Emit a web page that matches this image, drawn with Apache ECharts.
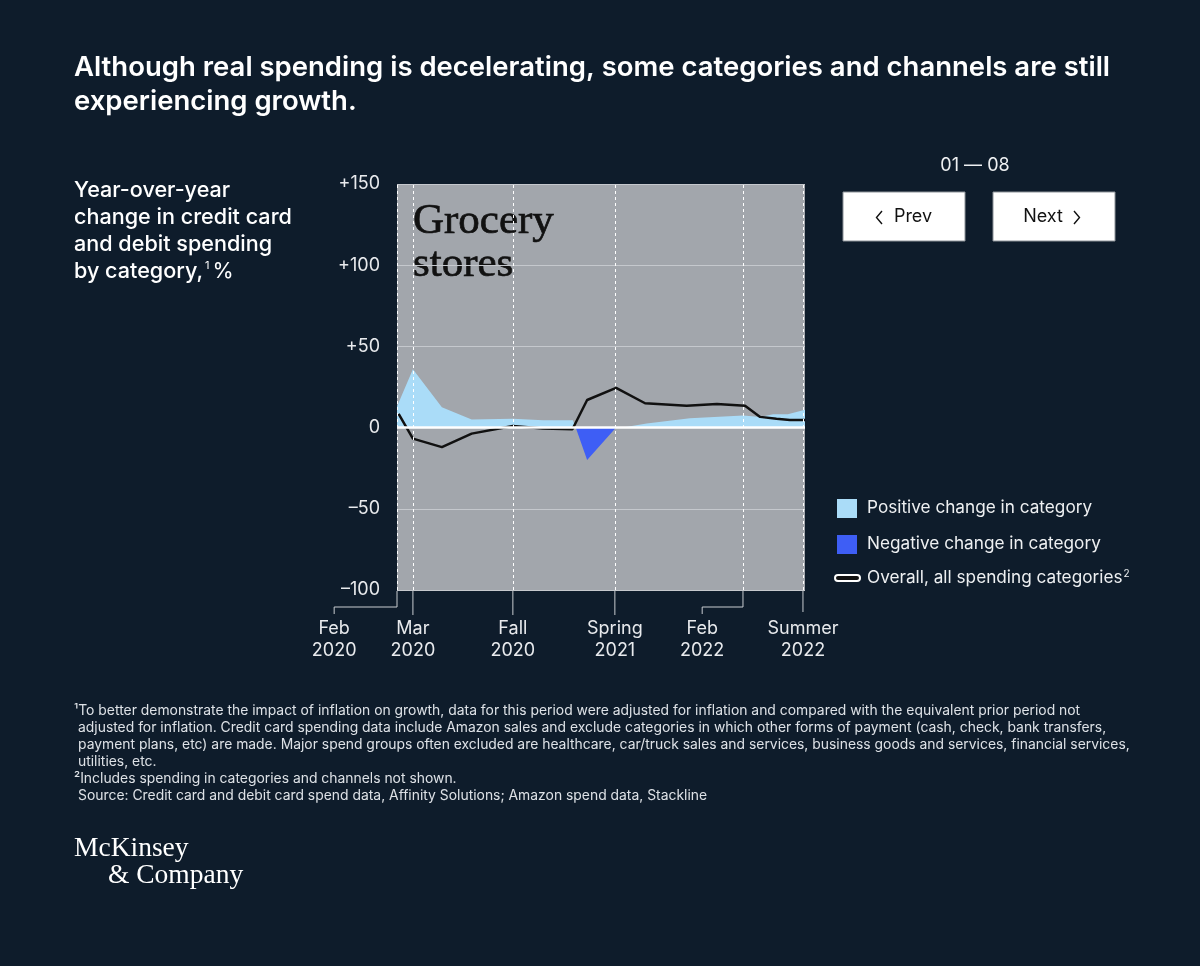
<!DOCTYPE html>
<html lang="en">
<head>
  <meta charset="UTF-8" />
  <title>Grocery stores – YoY spending</title>
  <script src="https://cdn.jsdelivr.net/npm/echarts@6.0.0/dist/echarts.min.js"></script>
  <style>
    html, body { margin: 0; padding: 0; background: #0e1c2b; }
    #chart { width: 1200px; height: 966px; }
  </style>
</head>
<body>
  <div id="chart"></div>
  <script>
    // timeline position (0 = Feb 2020 edge, 100 = right edge), values in %
    const categoryX = [0, 3.9, 11, 18.3, 28.4, 35.8, 43.1, 43.8, 46.6, 53.7, 55.4, 61.2, 71.8, 84.9, 89, 92.2, 95.8, 100];
    const categoryY = [13, 36, 12.5, 5, 5.4, 4.5, 4.5, 0, -20, 0, 0, 2.5, 5.7, 7.4, 6.6, 8.2, 8.2, 11];

    const overallX = [0.4, 3.9, 11, 18.3, 28.4, 35.8, 43, 46.6, 53.7, 60.8, 71, 78.4, 85.3, 89, 93, 96.3, 100];
    const overallY = [8.5, -6.8, -12, -3.7, 1, -0.5, -1, 17, 24.5, 15, 13.4, 14.6, 13.5, 6.6, 5.4, 4.7, 4.7];

    // x-axis markers: where the dashed line sits, where the label sits
    const tickAt = [0, 3.9, 28.4, 53.4, 84.8, 99.5];
    const labelAt = [-15.4, 3.9, 28.4, 53.4, 74.8, 99.5];
    const tickLabels = ['Feb\n2020', 'Mar\n2020', 'Fall\n2020', 'Spring\n2021', 'Feb\n2022', 'Summer\n2022'];

    const footnotes = [
      ['\u00b9To better demonstrate the impact of inflation on growth, data for this period were adjusted for inflation and compared with the equivalent prior period not', 74],
      ['adjusted for inflation. Credit card spending data include Amazon sales and exclude categories in which other forms of payment (cash, check, bank transfers,', 78],
      ['payment plans, etc) are made. Major spend groups often excluded are healthcare, car/truck sales and services, business goods and services, financial services,', 78],
      ['utilities, etc.', 78],
      ['\u00b2Includes spending in categories and channels not shown.', 74],
      ['Source: Credit card and debit card spend data, Affinity Solutions; Amazon spend data, Stackline', 78]
    ];

    const SANS = 'Inter, "Noto Sans", sans-serif';
    const SERIF = '"Liberation Serif", "DejaVu Serif", serif';
    const BG = '#0e1c2b';

    const chart = echarts.init(document.getElementById('chart'));

    const positive = categoryX.map((x, i) => [x, Math.max(categoryY[i], 0)]);
    const negative = categoryX.map((x, i) => [x, Math.min(categoryY[i], 0)]);
    const overall = overallX.map((x, i) => [x, overallY[i]]);

    function txt(x, y, text, size, opts) {
      return {
        type: 'text', x: x, y: y, silent: true,
        style: Object.assign({
          text: text, fill: '#eef0f2', font: '400 ' + size + 'px ' + SANS,
          align: 'left', verticalAlign: 'middle'
        }, opts || {})
      };
    }

    const graphics = [
      txt(74, 68, 'Although real spending is decelerating, some categories and channels are still', 27.5, { fill: '#ffffff', font: '600 27.5px ' + SANS }),
      txt(74, 102, 'experiencing growth.', 27.5, { fill: '#ffffff', font: '600 27.5px ' + SANS }),
      txt(74, 190, 'Year-over-year', 21.5, { fill: '#ffffff', font: '500 21.6px ' + SANS }),
      txt(74, 217, 'change in credit card', 21.5, { fill: '#ffffff', font: '500 21.6px ' + SANS }),
      txt(74, 244, 'and debit spending', 21.5, { fill: '#ffffff', font: '500 21.6px ' + SANS }),
      {
        type: 'text', x: 74, y: 271, silent: true,
        style: {
          text: '{a|by category,}{s|1}{b|%}', verticalAlign: 'middle',
          rich: {
            a: { fill: '#ffffff', font: '500 21.6px ' + SANS },
            b: { fill: '#ffffff', font: '400 21.6px ' + SANS },
            s: { fill: '#ffffff', font: '400 11px ' + SANS, verticalAlign: 'top', padding: [0, 3, 11, 2] }
          }
        }
      },
      // panel title inside plot
      txt(413, 222, 'Grocery', 43, { fill: '#111111', font: '400 43px ' + SERIF, stroke: '#111111', lineWidth: 0.7 }),
      txt(413, 265, 'stores', 43, { fill: '#111111', font: '400 43px ' + SERIF, stroke: '#111111', lineWidth: 0.7 }),
      // pager
      txt(975, 166, '01 \u2014 08', 18, { align: 'center' }),
      { type: 'rect', shape: { x: 843, y: 192, width: 122, height: 49 }, style: { fill: '#ffffff', stroke: '#8c9298', lineWidth: 1 } },
      { type: 'polyline', shape: { points: [[882, 211], [876.5, 217.5], [882, 224]] }, style: { stroke: '#111', lineWidth: 1.4, fill: null } },
      txt(913, 217, 'Prev', 18, { fill: '#111111', align: 'center' }),
      { type: 'rect', shape: { x: 993, y: 192, width: 122, height: 49 }, style: { fill: '#ffffff', stroke: '#8c9298', lineWidth: 1 } },
      txt(1043, 217, 'Next', 18, { fill: '#111111', align: 'center' }),
      { type: 'polyline', shape: { points: [[1074, 211], [1079.5, 217.5], [1074, 224]] }, style: { stroke: '#111', lineWidth: 1.4, fill: null } },
      // legend
      { type: 'rect', shape: { x: 837, y: 499, width: 20, height: 19 }, style: { fill: '#aadcf8' } },
      txt(867, 508, 'Positive change in category', 17.2),
      { type: 'rect', shape: { x: 837, y: 535, width: 20, height: 19 }, style: { fill: '#3e5ef5' } },
      txt(867, 544, 'Negative change in category', 17.2),
      { type: 'rect', shape: { x: 835, y: 575, width: 25, height: 6, r: 3 }, style: { fill: '#111', stroke: '#ffffff', lineWidth: 2 } },
      {
        type: 'text', x: 867, y: 578, silent: true,
        style: {
          text: '{a|Overall, all spending categories}{s|2}', verticalAlign: 'middle',
          rich: {
            a: { fill: '#eef0f2', font: '400 17.2px ' + SANS },
            s: { fill: '#eef0f2', font: '400 10px ' + SANS, verticalAlign: 'top', padding: [0, 0, 9, 1] }
          }
        }
      },
      // logo
      txt(74, 849, 'McKinsey', 27.5, { fill: '#ffffff', font: '400 27.5px ' + SERIF }),
      txt(108, 876, '& Company', 27.5, { fill: '#ffffff', font: '400 27.5px ' + SERIF })
    ];

    footnotes.forEach((f, i) => {
      graphics.push(txt(f[1], 711 + i * 17, f[0], 13.9, { fill: '#dde1e6', font: '400 13.9px ' + SANS }));
    });

    const option = {
      backgroundColor: BG,
      animation: false,
      grid: {
        left: 397, top: 184, width: 408, height: 406,
        show: true, backgroundColor: '#a2a6ac', borderWidth: 0
      },
      xAxis: {
        type: 'value', min: 0, max: 100,
        axisLine: { show: false }, axisTick: { show: false },
        axisLabel: { show: false }, splitLine: { show: false }
      },
      yAxis: {
        type: 'value', min: -100, max: 150, interval: 50,
        axisLine: { show: false }, axisTick: { show: false },
        axisLabel: {
          color: '#e8eaed', fontSize: 18, fontFamily: SANS, margin: 17,
          formatter: v => v > 0 ? '+' + v : (v < 0 ? '\u2013' + Math.abs(v) : '0')
        },
        splitLine: { lineStyle: { color: '#c5c8cd', width: 1 } }
      },
      series: [
        {
          name: 'Positive change in category', type: 'line', data: positive,
          showSymbol: false, lineStyle: { width: 0 }, areaStyle: { color: '#aadcf8', opacity: 1 },
          z: 2,
          markLine: {
            silent: true, symbol: 'none', label: { show: false },
            lineStyle: { color: '#ffffff', type: [3, 3], width: 1 },
            data: tickAt.map(v => ({ xAxis: v }))
          }
        },
        {
          name: 'Negative change in category', type: 'line', data: negative,
          showSymbol: false, lineStyle: { width: 0 }, areaStyle: { color: '#3e5ef5', opacity: 1 },
          z: 2
        },
        {
          name: 'Zero', type: 'line', data: [],
          markLine: {
            silent: true, symbol: 'none', label: { show: false },
            lineStyle: { color: '#ffffff', type: 'solid', width: 2.5 },
            data: [{ yAxis: 0 }]
          },
          z: 3
        },
        {
          name: 'Overall, all spending categories', type: 'line', data: overall,
          showSymbol: false, lineStyle: { color: '#111111', width: 2.5 },
          z: 4
        }
      ],
      graphic: graphics
    };

    chart.setOption(option);

    // x-axis markers placed through the axis scale
    const bottom = 591;
    const extra = [];
    tickAt.forEach((t, i) => {
      const tx = chart.convertToPixel({ xAxisIndex: 0 }, t);
      const lx = chart.convertToPixel({ xAxisIndex: 0 }, labelAt[i]);
      let pts;
      if (Math.abs(tx - lx) > 1) {
        pts = [[tx, bottom], [tx, 607], [lx, 607], [lx, 614]];
      } else {
        pts = [[tx, bottom], [tx, i === tickAt.length - 1 ? 612 : 615]];
      }
      extra.push({ type: 'polyline', shape: { points: pts }, style: { stroke: '#c8ccd1', lineWidth: 1, fill: null }, silent: true });
      const lines = tickLabels[i].split('\n');
      extra.push(txt(lx, 629, lines[0], 18, { align: 'center', fill: '#e8eaed' }));
      extra.push(txt(lx, 651, lines[1], 18, { align: 'center', fill: '#e8eaed' }));
    });
    chart.setOption({ graphic: graphics.concat(extra) });
  </script>
</body>
</html>
